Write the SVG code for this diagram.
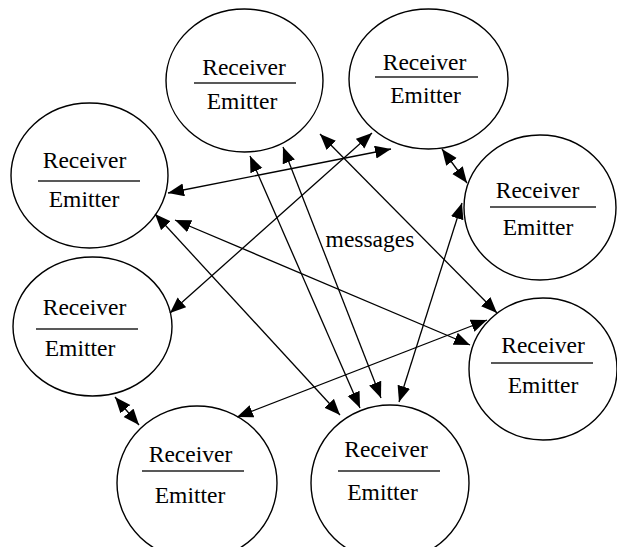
<svg xmlns="http://www.w3.org/2000/svg" width="617" height="547" viewBox="0 0 617 547">
<style>
.node ellipse{fill:#fff;stroke:#000;stroke-width:1.4}
.node line{stroke:#222;stroke-width:1.5}
.t{font-family:'Liberation Serif','DejaVu Serif','Times New Roman',serif;font-size:23.5px;fill:#000;text-anchor:middle}
#connectors line{stroke:#000;stroke-width:1.3;marker-start:url(#ah);marker-end:url(#ah)}
</style>
<defs>
<marker id="ah" markerUnits="userSpaceOnUse" markerWidth="17" markerHeight="14" refX="16" refY="6.5" orient="auto-start-reverse">
<path d="M0,0 L16,6.5 L0,13 z" fill="#000"/>
</marker>
</defs>
<rect width="617" height="547" fill="#fff"/>
<g id="nodeA" class="node">
<ellipse cx="244.5" cy="80.5" rx="78.5" ry="71.5"/>
<text class="t" font-family="Liberation Serif, serif" x="244" y="75">Receiver</text>
<line x1="194" y1="83" x2="296" y2="83"/>
<text class="t" font-family="Liberation Serif, serif" x="242" y="109">Emitter</text>
</g>
<g id="nodeB" class="node">
<ellipse cx="428.5" cy="79" rx="79.5" ry="70"/>
<text class="t" x="424.5" y="70">Receiver</text>
<line x1="375" y1="77" x2="478" y2="77"/>
<text class="t" x="425.5" y="103">Emitter</text>
</g>
<g id="nodeC" class="node">
<ellipse cx="89.5" cy="175.5" rx="78.5" ry="72.5"/>
<text class="t" x="84.5" y="168">Receiver</text>
<line x1="38" y1="181" x2="140" y2="181"/>
<text class="t" x="84" y="207">Emitter</text>
</g>
<g id="nodeD" class="node">
<ellipse cx="540" cy="207.5" rx="76" ry="72.5"/>
<text class="t" x="537.5" y="198">Receiver</text>
<line x1="490" y1="207" x2="596" y2="207"/>
<text class="t" x="538" y="235">Emitter</text>
</g>
<g id="nodeE" class="node">
<ellipse cx="92.5" cy="326.5" rx="79.5" ry="69.5"/>
<text class="t" x="84.5" y="315">Receiver</text>
<line x1="36" y1="329" x2="138" y2="329"/>
<text class="t" x="80" y="356">Emitter</text>
</g>
<g id="nodeF" class="node">
<ellipse cx="197" cy="483" rx="80" ry="77"/>
<text class="t" x="190.5" y="462">Receiver</text>
<line x1="142" y1="471" x2="244" y2="471"/>
<text class="t" x="190" y="502.5">Emitter</text>
</g>
<g id="nodeG" class="node">
<ellipse cx="390" cy="483" rx="79" ry="78"/>
<text class="t" x="386" y="457">Receiver</text>
<line x1="338" y1="471" x2="440" y2="471"/>
<text class="t" x="382.5" y="500">Emitter</text>
</g>
<g id="nodeH" class="node">
<ellipse cx="543" cy="369" rx="74" ry="71"/>
<text class="t" x="543" y="353">Receiver</text>
<line x1="491" y1="363" x2="593" y2="363"/>
<text class="t" x="543" y="393">Emitter</text>
</g>
<g id="connectors">
<line x1="168" y1="193" x2="391" y2="149"/>
<line x1="170" y1="313" x2="372" y2="133"/>
<line x1="155" y1="214" x2="340" y2="415"/>
<line x1="175" y1="220" x2="470" y2="345"/>
<line x1="250" y1="156" x2="360" y2="408"/>
<line x1="283" y1="147" x2="381" y2="398"/>
<line x1="320" y1="134" x2="497" y2="313"/>
<line x1="462" y1="203" x2="399" y2="402"/>
<line x1="237" y1="417" x2="487" y2="320"/>
<line x1="442" y1="149" x2="467" y2="183"/>
<line x1="115" y1="397" x2="139" y2="425"/>
</g>
<text class="t" x="370" y="247">messages</text>
</svg>
